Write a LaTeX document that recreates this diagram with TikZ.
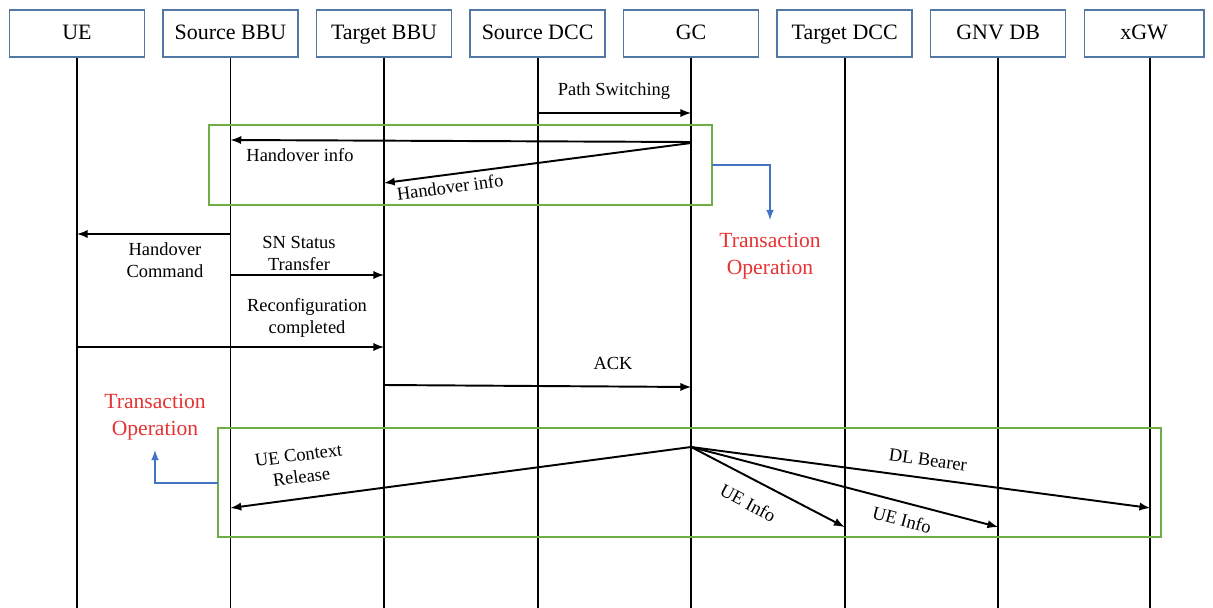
\documentclass[tikz,border=0pt]{standalone}
\usepackage{fontspec}
\setmainfont{Liberation Serif}
\usepackage{tikz}
\usetikzlibrary{positioning,arrows,calc}
\definecolor{boxblue}{RGB}{84,120,165}
\definecolor{opgreen}{RGB}{112,173,71}
\definecolor{linkblue}{RGB}{68,114,196}
\definecolor{opred}{RGB}{230,50,50}

\begin{document}
\begin{tikzpicture}[x=0.02cm,y=-0.02cm]
     \tikzset{entity/.style={draw=boxblue, line width=0.8pt, minimum width=2.7cm, minimum height=0.94cm, inner sep=0pt, text height=2ex, text depth=0.5ex, font=\fontsize{12.5}{14}\selectfont}}
     \tikzset{life/.style={draw, line width=1.1pt}}
     \tikzset{msg/.style={draw, line width=1.1pt, -latex}}
     \tikzset{lbl/.style={font=\fontsize{10.5}{12.5}\selectfont, align=center, inner sep=1pt}}
     \tikzset{opbox/.style={draw=opgreen, line width=1pt}}
     \tikzset{oplink/.style={draw=linkblue, line width=1pt, -latex}}
     \tikzset{optext/.style={text=opred, font=\fontsize{12.3}{15.2}\selectfont, align=center}}
     \useasboundingbox (0,0) rectangle (1213,608);
     \coordinate (bot) at (0,608);
     % entities
     \node [entity] (ue) at (77,33.5) {UE};
     \node [entity, right=0.343cm of ue]   (sbbu) {Source BBU};
     \node [entity, right=0.343cm of sbbu] (tbbu) {Target BBU};
     \node [entity, right=0.343cm of tbbu] (sdcc) {Source DCC};
     \node [entity, right=0.343cm of sdcc] (gc)   {GC};
     \node [entity, right=0.343cm of gc]   (tdcc) {Target DCC};
     \node [entity, right=0.343cm of tdcc] (gnv)  {GNV DB};
     \node [entity, right=0.343cm of gnv, minimum width=2.4cm] (xgw) {xGW};
     \coordinate (xgwl) at ($(xgw.south)+(6,0)$);
     % lifelines
     \path [life] (ue.south)   -- (ue.south |- bot);
     \path [life] (sbbu.south) -- (sbbu.south |- bot);
     \path [life] (tbbu.south) -- (tbbu.south |- bot);
     \path [life] (sdcc.south) -- (sdcc.south |- bot);
     \path [life] (gc.south)   -- (gc.south |- bot);
     \path [life] (tdcc.south) -- (tdcc.south |- bot);
     \path [life] (gnv.south)  -- (gnv.south |- bot);
     \path [life] (xgwl)       -- (xgwl |- bot);

     % transaction boxes
     \path [opbox] (209,125) rectangle (712,205);
     \coordinate (op1) at (712,165);
     \coordinate (op1end) at (770,220);
     \node [optext] (tr1) at (770,256) {Transaction\\Operation};
     \path [oplink] (op1) -| (op1end);

     \path [opbox] (218,428) rectangle (1161,537);
     \coordinate (op2) at (218,483);
     \coordinate (op2end) at (155,450);
     \node [optext] (tr2) at (155,417) {Transaction\\Operation};
     \path [oplink] (op2) -| (op2end);

     % messages
     \path [msg] (sdcc |- 0,113) -- (gc |- 0,113);
     \node [lbl] (m1) at (614,91) {Path Switching};

     \path [msg] (gc |- 0,142) -- (sbbu |- 0,140);
     \node [lbl] (m2) at (300,155) {Handover info};
     \path [msg] (gc |- 0,143) -- (tbbu |- 0,183);
     \node [lbl, rotate=7.5] (m3) at (450,187) {Handover info};

     \path [msg] (sbbu |- 0,234) -- (ue |- 0,234);
     \node [lbl] (m4) at (165,260) {Handover\\Command};
     \path [msg] (sbbu |- 0,275) -- (tbbu |- 0,275);
     \node [lbl] (m5) at (299,253) {SN Status\\Transfer};

     \path [msg] (ue |- 0,347) -- (tbbu |- 0,347);
     \node [lbl] (m6) at (307,318) {Reconfiguration\\completed};
     \path [msg] (tbbu |- 0,385) -- (gc |- 0,387);
     \node [lbl] (m7) at (613,363) {ACK};

     \coordinate (fork) at (gc |- 0,447);
     \path [msg] (fork) -- (sbbu |- 0,508);
     \node [lbl, rotate=7.5] (m8) at (300,466) {UE Context\\Release};
     \path [msg] (fork) -- (tdcc |- 0,527);
     \node [lbl, rotate=-28] (m9) at (748,503) {UE Info};
     \path [msg] (fork) -- (gnv |- 0,527);
     \node [lbl, rotate=-15] (m10) at (902,520) {UE Info};
     \path [msg] (fork) -- (xgwl |- 0,508);
     \node [lbl, rotate=-7.5] (m11) at (928,460) {DL Bearer};
\end{tikzpicture}
\end{document}
